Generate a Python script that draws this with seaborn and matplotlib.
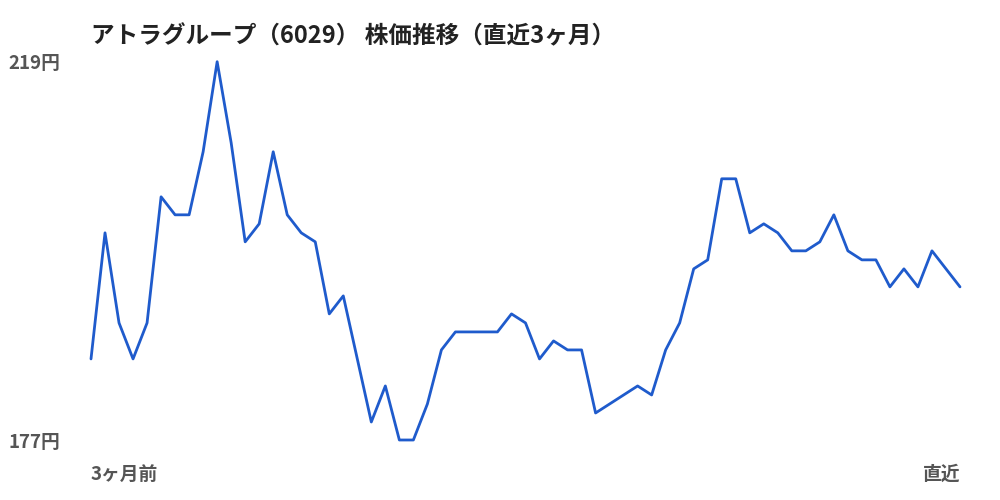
import matplotlib
matplotlib.use("Agg")
import matplotlib.pyplot as plt
import seaborn as sns
import pandas as pd

title = "アトラグループ（6029） 株価推移（直近3ヶ月）"
prices = [186, 200, 190, 186, 190, 204, 202, 202, 209, 219,
          210, 199, 201, 209, 202, 200, 199, 191, 193, 186,
          179, 183, 177, 177, 181, 187, 189, 189, 189, 189,
          191, 190, 186, 188, 187, 187, 180, 181, 182, 183,
          182, 187, 190, 196, 197, 206, 206, 200, 201, 200,
          198, 198, 199, 202, 198, 197, 197, 194, 196, 194,
          198, 196, 194]
x_labels = ["3ヶ月前", "直近"]
y_min, y_max = min(prices), max(prices)
y_labels = [f"{y_min}円", f"{y_max}円"]

df = pd.DataFrame({"day": range(len(prices)), "price": prices})

sns.set_theme(style="white")
plt.rcParams["font.family"] = ["Noto Sans CJK JP", "DejaVu Sans"]

fig = plt.figure(figsize=(10, 5), dpi=100)
ax = fig.add_axes([0.091, 0.12, 0.869, 0.7566])
sns.lineplot(data=df, x="day", y="price", ax=ax, color="#1f5bcc", linewidth=2.0)
for ln in ax.get_lines():
    ln.set_clip_on(False)

ax.set_xlim(0, len(prices) - 1)
ax.set_ylim(y_min, y_max)
for s in ax.spines.values():
    s.set_visible(False)
ax.set_xlabel("")
ax.set_ylabel("")

ax.set_yticks([y_min, y_max])
ax.set_yticklabels(y_labels, fontsize=13.5, fontweight="bold", color="#555555")
ax.tick_params(axis="y", length=0, pad=22)
for t in ax.get_yticklabels():
    t.set_horizontalalignment("right")

ax.set_xticks([0, len(prices) - 1])
ax.set_xticklabels(x_labels, fontsize=13.5, fontweight="bold", color="#555555")
ax.tick_params(axis="x", length=0, pad=18)
xt = ax.get_xticklabels()
xt[0].set_horizontalalignment("left")
xt[1].set_horizontalalignment("right")

fig.text(0.091, 0.928, title, fontsize=17, fontweight="bold", color="#222222",
         ha="left", va="center")

fig.savefig("out.png", dpi=100, facecolor="white")
